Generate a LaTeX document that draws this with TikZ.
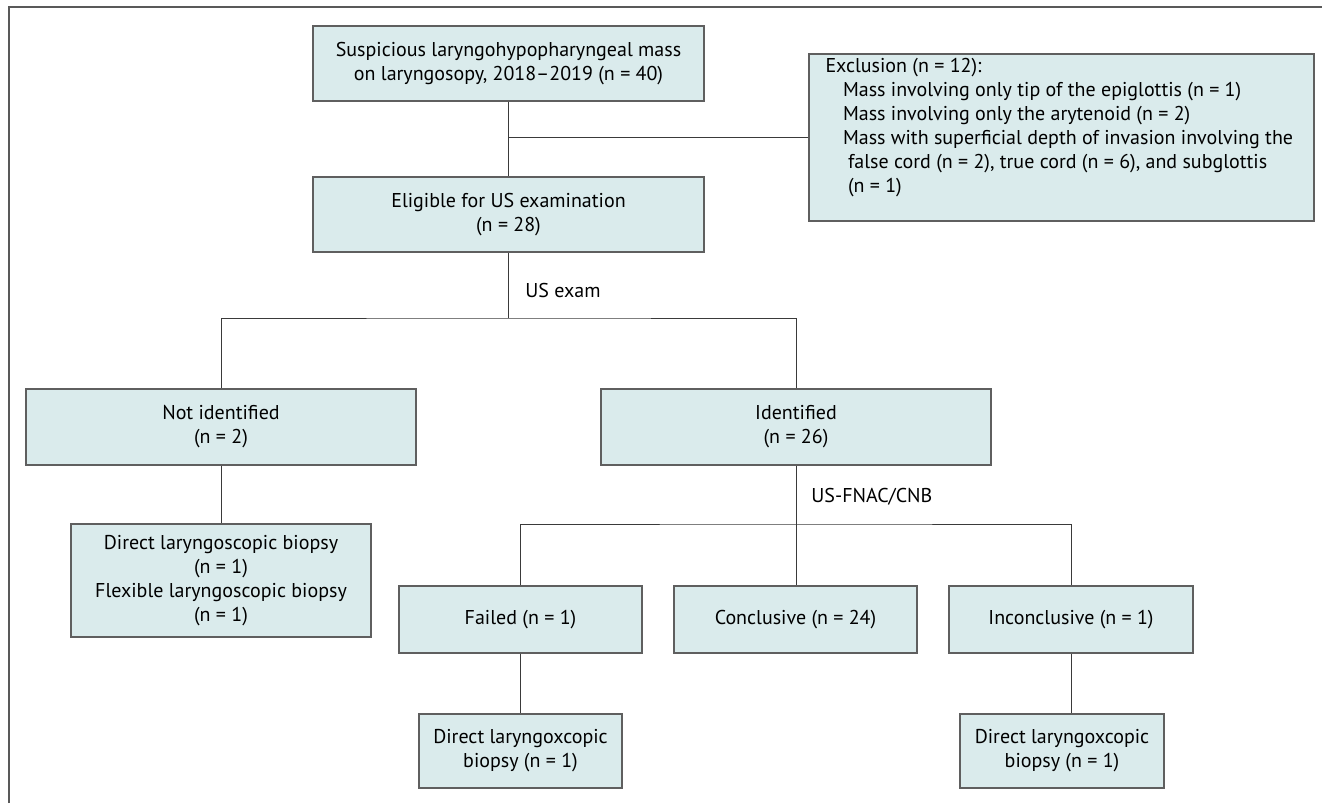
\documentclass[tikz,border=0pt]{standalone}
\usepackage{fontspec}
\setmainfont{PT Sans}
\usepackage{tikz}
\usepackage{xcolor}
\definecolor{boxfill}{HTML}{DAEBEC}
\definecolor{boxline}{HTML}{5F5F5F}
\definecolor{linkline}{HTML}{3A3A3A}
\tikzset{
    flow-box/.style = {draw=boxline, fill=boxfill, line width=0.6pt, rectangle, align=center, inner sep=0pt, font=\fontsize{10}{12}\selectfont},
    flow-label/.style = {inner sep=0pt, anchor=west, font=\fontsize{10}{12}\selectfont},
    flow-line/.style = {draw=linkline, line width=0.5pt},
    frame-line/.style = {draw=black!65, line width=1pt},
}

\begin{document}
\begin{tikzpicture}[x=0.5pt, y=-0.5pt]
\useasboundingbox (0,0) rectangle (1322,803);
\draw[frame-line] (9,803) -- (9,7) -- (1322,7);

\node[flow-box, minimum width=195.5pt, minimum height=37.5pt] (mass) at (508.5,63.5) {Suspicious laryngohypopharyngeal mass\\on laryngosopy, 2018--2019 (n = 40)};
\node[flow-box, minimum width=195.5pt, minimum height=37.5pt] (eligible) at (508.5,214.5) {Eligible for US examination\\(n = 28)};
\node[flow-box, minimum width=252.5pt, minimum height=83.5pt] (exclusion) at (1061.5,137.5) {\begin{minipage}[c][83.5pt][t]{236pt}
    \vspace*{1pt}
    \begin{tabular}{@{}l@{}}
    Exclusion (n = 12):\\
    \hspace*{8.75pt}Mass involving only tip of the epiglottis (n = 1)\\
    \hspace*{8.75pt}Mass involving only the arytenoid (n = 2)\\
    \hspace*{8.75pt}Mass with superficial depth of invasion involving the\\
    \hspace*{11.25pt}false cord (n = 2), true cord (n = 6), and subglottis\\
    \hspace*{11.25pt}(n = 1)
    \end{tabular}
\end{minipage}};

\node[flow-box, minimum width=195pt, minimum height=38pt] (notid) at (221,427) {Not identified\\(n = 2)};
\node[flow-box, minimum width=195pt, minimum height=38pt] (ident) at (796,427) {Identified\\(n = 26)};
\node[flow-box, minimum width=150pt, minimum height=56.5pt] (biopsy) at (221,580.5) {Direct laryngoscopic biopsy\\(n = 1)\\Flexible laryngoscopic biopsy\\(n = 1)};

\node[flow-box, minimum width=121.5pt, minimum height=33.5pt] (failed) at (520.5,619.5) {Failed (n = 1)};
\node[flow-box, minimum width=121.5pt, minimum height=33.5pt] (concl) at (795.5,619.5) {Conclusive (n = 24)};
\node[flow-box, minimum width=122pt, minimum height=33.5pt] (inconcl) at (1071,619.5) {Inconclusive (n = 1)};
\node[flow-box, minimum width=101.5pt, minimum height=37pt] (larfail) at (520.5,751) {Direct laryngoxcopic\\biopsy (n = 1)};
\node[flow-box, minimum width=102pt, minimum height=37pt] (larinc) at (1062,751) {Direct laryngoxcopic\\biopsy (n = 1)};

\node[flow-label] (usexam) at (525,290) {US exam};
\node[flow-label] (usfnac) at (811,497) {US-FNAC/CNB};
\coordinate (split-us) at (508.5,318);
\coordinate (split-fnac) at (796,524);

\draw[flow-line] (mass.south) -- (eligible.north);
\draw[flow-line] (exclusion.west) -- (exclusion.west -| mass.south);
\draw[flow-line] (eligible.south) -- (split-us);
\draw[flow-line] (notid.north) |- (split-us) -| (ident.north);
\draw[flow-line] (notid.south) -- (biopsy.north);
\draw[flow-line] (ident.south) -- (split-fnac);
\draw[flow-line] (failed.north) |- (split-fnac) -| (inconcl.north);
\draw[flow-line] (split-fnac) -- (split-fnac |- concl.north);
\draw[flow-line] (failed.south) -- (failed.south |- larfail.north);
\draw[flow-line] (inconcl.south) -- (inconcl.south |- larinc.north);
\end{tikzpicture}
\end{document}
